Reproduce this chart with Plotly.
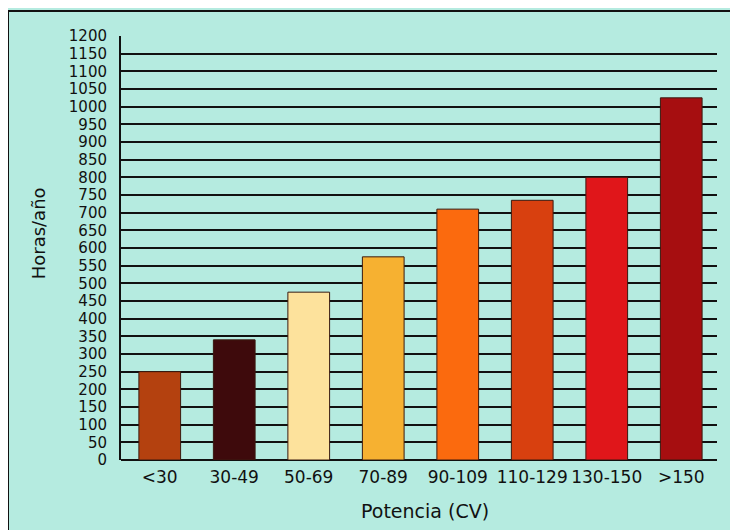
import plotly.graph_objects as go

categories = ["<30", "30-49", "50-69", "70-89", "90-109", "110-129", "130-150", ">150"]
horas = [250, 340, 475, 575, 710, 735, 800, 1025]
bar_colors = ["#b4410f", "#3e0a0c", "#fde29c", "#f6b131", "#fb6a0e", "#d8400f", "#e0161a", "#a60e10"]
y_ticks = list(range(0, 1201, 50))

bg = "#b5ebe0"
font_family = "DejaVu Sans, Arial, sans-serif"

fig = go.Figure(go.Bar(
    x=categories, y=horas,
    marker=dict(color=bar_colors, line=dict(color="#3a1a10", width=1)),
    width=0.56,
))

# The page body adds an 8px offset, so the figure is 8px smaller and margins compensate.
fig.update_layout(
    width=730, height=522,
    margin=dict(l=113, r=21, t=28, b=70),
    paper_bgcolor=bg, plot_bgcolor=bg,
    font=dict(family=font_family, size=17, color="#111"),
    showlegend=False,
    xaxis=dict(type="category", range=[-0.52, 7.48], showgrid=False, showline=False,
               ticks="", tickfont=dict(size=17), ticklabelstandoff=5),
    yaxis=dict(range=[0, 1200], tickvals=y_ticks, showgrid=True, gridcolor="#111", gridwidth=2,
               showline=True, linecolor="#111", linewidth=2, ticks="", zeroline=True,
               zerolinecolor="#111", zerolinewidth=2, tickfont=dict(size=15), ticklabelstandoff=9),
    annotations=[
        dict(text="Horas/año", x=-0.139, y=0.535, xref="paper", yref="paper", textangle=-90,
             showarrow=False, font=dict(size=18), xanchor="center", yanchor="middle"),
        dict(text="Potencia (CV)", x=0.51, y=-0.12, xref="paper", yref="paper",
             showarrow=False, font=dict(size=19), xanchor="center", yanchor="middle"),
    ],
    shapes=[
        dict(type="line", xref="paper", yref="paper", x0=-0.1896, x1=-0.1896, y0=1.059, y1=-0.17,
             line=dict(color="#111", width=2)),
        dict(type="line", xref="paper", yref="paper", x0=-0.1896, x1=1.04, y0=1.059, y1=1.059,
             line=dict(color="#111", width=2)),
    ],
)

fig.write_html("out.html")
